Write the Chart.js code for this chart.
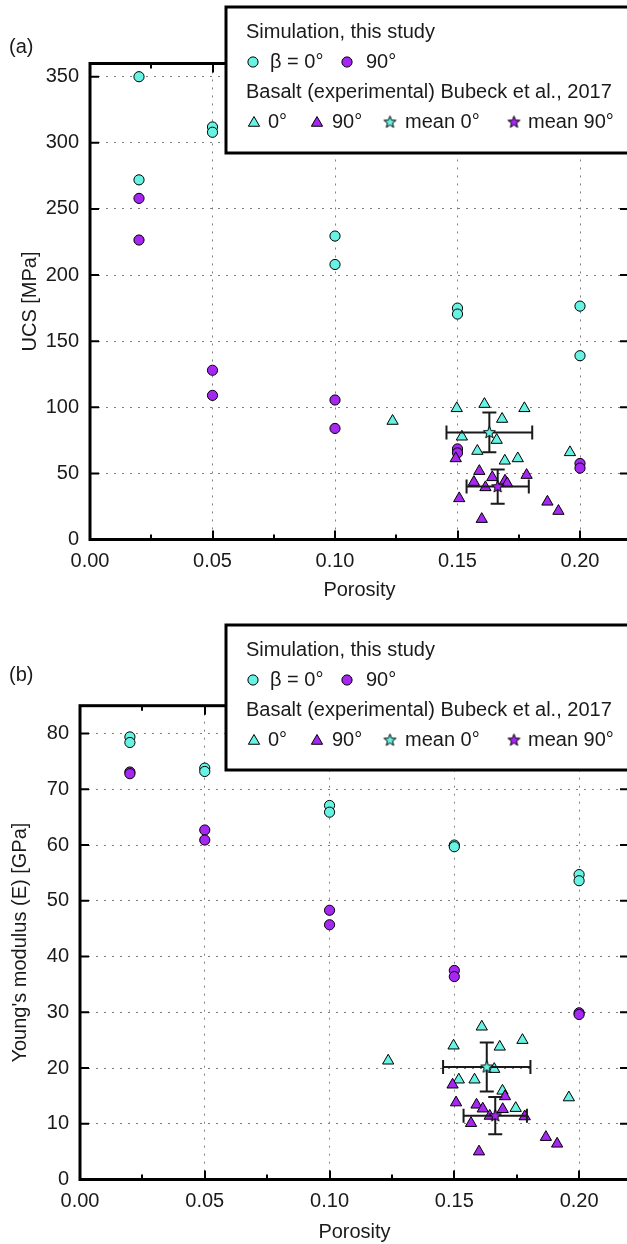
<!DOCTYPE html>
<html><head><meta charset="utf-8">
<script src="https://cdn.jsdelivr.net/npm/chart.js@4/dist/chart.umd.min.js"></script>
<style>
html,body{margin:0;padding:0;background:#fff;overflow:hidden;width:627px;height:1244px;position:relative}
.wrap{position:absolute;left:0;width:640px}
canvas{display:block}
</style></head><body>
<div class="wrap" style="top:0;height:620px"><canvas id="ca" width="640" height="620"></canvas></div>
<div class="wrap" style="top:620px;height:624px"><canvas id="cb" width="640" height="624"></canvas></div>
<script>
// ---------- data ----------
const simPorosity = [0.02, 0.02, 0.05, 0.05, 0.10, 0.10, 0.15, 0.15, 0.20, 0.20];
const ucsSim0  = [350, 272, 312, 308, 229.5, 208, 175, 170.5, 176.5, 139];
const ucsSim90 = [258, 226.5, 128, 109, 105.5, 84, 68.5, 65.5, 57.5, 54];
const eSim0    = [79.4, 78.4, 73.8, 73.2, 67.1, 65.9, 60.0, 59.7, 54.7, 53.6];
const eSim90   = [73.1, 72.8, 62.7, 60.9, 48.3, 45.7, 37.5, 36.4, 29.9, 29.6];

const expPor0  = [0.1497, 0.1610, 0.1773, 0.1682, 0.1518, 0.1660, 0.1581, 0.1693, 0.1746, 0.1959, 0.1235];
const ucsExp0  = [99.2, 102.4, 99.2, 91.1, 77.7, 75.2, 66.9, 59.5, 61.3, 65.9, 89.6];
const eExp0    = [24.0, 27.4, 25.0, 23.8, 17.9, 19.8, 17.9, 15.9, 12.8, 14.7, 21.3];

const expPor90 = [0.1493, 0.1589, 0.1567, 0.1614, 0.1642, 0.1694, 0.1703, 0.1782, 0.1507, 0.1599, 0.1867, 0.1912];
const ucsExp90 = [61.3, 51.7, 43.4, 39.4, 47.0, 44.4, 42.4, 48.7, 31.1, 15.4, 28.5, 21.5];
const eExp90   = [17.0, 13.4, 10.1, 12.7, 11.4, 12.6, 14.9, 11.3, 13.8, 5.0, 7.6, 6.4];

// means: [0 deg, 90 deg]
const meanPor    = [0.1630, 0.1664];
const meanPorErr = [0.0175, 0.0127];
const ucsMean    = [81, 40];
const ucsMeanErr = [15, 13];
const eMean      = [20.2, 11.45];
const eMeanErr   = [4.4, 3.35];

const xTickValues = [0, 0.05, 0.10, 0.15, 0.20];
const legendTexts = {
  head1: 'Simulation, this study',
  sim0: 'β = 0°', sim90: '90°',
  head2: 'Basalt (experimental) Bubeck et al., 2017',
  exp0: '0°', exp90: '90°', mean0: 'mean 0°', mean90: 'mean 90°'
};

// ---------- styles ----------
const CYAN = '#66f3e3';
const PURPLE = '#a626f2';
const FONT = "'Liberation Sans', Arial, sans-serif";
const TXT = '#1a1a1a';

function starCanvas(color) {
  const c = document.createElement('canvas'); c.width = 15; c.height = 15;
  const g = c.getContext('2d');
  g.beginPath();
  for (let i = 0; i < 10; i++) {
    const r = i % 2 === 0 ? 6.3 : 2.7;
    const a = -Math.PI / 2 + i * Math.PI / 5;
    const px = 7.5 + r * Math.cos(a), py = 7.8 + r * Math.sin(a);
    i ? g.lineTo(px, py) : g.moveTo(px, py);
  }
  g.closePath(); g.fillStyle = color; g.fill();
  g.lineWidth = 1; g.strokeStyle = '#000'; g.stroke();
  return c;
}
const star0 = starCanvas(CYAN), star90 = starCanvas(PURPLE);

const pts = (xs, ys) => xs.map((x, i) => ({x, y: ys[i]}));

function makeChart(id, cfg) {
  const ctx = document.getElementById(id);
  const circ = (c) => ({pointStyle: 'circle', pointRadius: 5.1, pointBackgroundColor: c, pointBorderColor: '#000', pointBorderWidth: 1});
  const tri = (c) => ({pointStyle: 'triangle', pointRadius: 6.5, pointBackgroundColor: c, pointBorderColor: '#000', pointBorderWidth: 1});
  const datasets = [
    {label: 'mean 90°', data: [{x: meanPor[1], y: cfg.mean[1]}], pointStyle: star90, pointRadius: 7},
    {label: 'mean 0°', data: [{x: meanPor[0], y: cfg.mean[0]}], pointStyle: star0, pointRadius: 7},
    Object.assign({label: 'exp 90°', data: pts(expPor90, cfg.exp90)}, tri(PURPLE)),
    Object.assign({label: 'exp 0°', data: pts(expPor0, cfg.exp0)}, tri(CYAN)),
    Object.assign({label: 'sim 90°', data: pts(simPorosity, cfg.sim90)}, circ(PURPLE)),
    Object.assign({label: 'sim 0°', data: pts(simPorosity, cfg.sim0)}, circ(CYAN)),
  ];

  const errPlugin = {
    id: 'errbars',
    beforeDatasetDraw(chart, args) {
      if (args.index !== 1) return;
      const xs = chart.scales.x, ys = chart.scales.y, c = chart.ctx;
      c.save();
      c.strokeStyle = '#1a1a1a'; c.lineWidth = 2;
      for (let i = 0; i < 2; i++) {
        const px = xs.getPixelForValue(meanPor[i]);
        const py = ys.getPixelForValue(cfg.mean[i]);
        const x1 = xs.getPixelForValue(meanPor[i] - meanPorErr[i]);
        const x2 = xs.getPixelForValue(meanPor[i] + meanPorErr[i]);
        const y1 = ys.getPixelForValue(cfg.mean[i] - cfg.meanErr[i]);
        const y2 = ys.getPixelForValue(cfg.mean[i] + cfg.meanErr[i]);
        const cap = 7;
        c.beginPath();
        c.moveTo(x1, py); c.lineTo(x2, py);
        c.moveTo(x1, py - cap); c.lineTo(x1, py + cap);
        c.moveTo(x2, py - cap); c.lineTo(x2, py + cap);
        c.moveTo(px, y1); c.lineTo(px, y2);
        c.moveTo(px - cap, y1); c.lineTo(px + cap, y1);
        c.moveTo(px - cap, y2); c.lineTo(px + cap, y2);
        c.stroke();
      }
      c.restore();
    }
  };

  const framePlugin = {
    id: 'frame',
    afterDraw(chart) {
      const c = chart.ctx, a = chart.chartArea, xs = chart.scales.x, ys = chart.scales.y;
      c.save();
      c.strokeStyle = '#000'; c.lineWidth = 2;
      c.beginPath();
      for (let v = 0.025; v < 0.22; v += 0.025) {
        const px = Math.round(xs.getPixelForValue(v));
        const major = Math.abs(v / 0.05 - Math.round(v / 0.05)) < 1e-6;
        const L = major ? 9 : 5;
        c.moveTo(px, a.bottom); c.lineTo(px, a.bottom - L);
        c.moveTo(px, a.top); c.lineTo(px, a.top + L);
      }
      ys.ticks.forEach(t => {
        const py = ys.getPixelForValue(t.value);
        c.moveTo(a.left, py); c.lineTo(a.left + 9, py);
        c.moveTo(a.right, py); c.lineTo(a.right - 9, py);
      });
      c.stroke();
      c.lineWidth = 3;
      c.strokeRect(a.left, a.top, a.right - a.left, a.bottom - a.top);
      // legend box
      const L = cfg.legend;
      c.fillStyle = '#fff';
      c.fillRect(L.left, L.top, 700 - L.left, L.h);
      c.strokeRect(L.left, L.top, 700 - L.left, L.h);
      c.fillStyle = TXT; c.font = '20px ' + FONT; c.textBaseline = 'middle'; c.textAlign = 'left';
      const r = (i) => L.top + 25 + 30 * i;
      c.fillText(legendTexts.head1, 246, r(0));
      c.fillText(legendTexts.sim0, 270, r(1));
      c.fillText(legendTexts.sim90, 366, r(1));
      c.fillText(legendTexts.head2, 246, r(2));
      c.fillText(legendTexts.exp0, 268, r(3));
      c.fillText(legendTexts.exp90, 332, r(3));
      c.fillText(legendTexts.mean0, 405, r(3));
      c.fillText(legendTexts.mean90, 528, r(3));
      const mk = (style, rad, col, x, y) => {
        c.fillStyle = col; c.strokeStyle = '#000'; c.lineWidth = 1;
        Chart.helpers.drawPoint(c, {pointStyle: style, radius: rad, borderWidth: 1, rotation: 0}, x, y);
      };
      mk('circle', 5.1, CYAN, 253, r(1));
      mk('circle', 5.1, PURPLE, 347, r(1));
      mk('triangle', 6.5, CYAN, 254, r(3) + 1);
      mk('triangle', 6.5, PURPLE, 317, r(3) + 1);
      c.drawImage(star0, 390 - 7.5, r(3) - 7.5);
      c.drawImage(star90, 514 - 7.5, r(3) - 7.5);
      c.fillStyle = TXT; c.font = '20px ' + FONT; c.textAlign = 'left';
      c.fillText(cfg.panel, 9, cfg.panelY);
      c.restore();
    }
  };

  return new Chart(ctx, {
    type: 'scatter',
    data: {datasets},
    options: {
      responsive: false, animation: false, devicePixelRatio: 1,
      layout: {padding: {top: cfg.top, right: 11, left: 0, bottom: 0}},
      plugins: {legend: {display: false}, tooltip: {enabled: false}},
      scales: {
        x: {
          type: 'linear', min: 0, max: 0.22,
          afterFit: s => { s.height = cfg.xH; },
          afterBuildTicks: s => { s.ticks = xTickValues.map(v => ({value: v})); },
          ticks: {font: {size: 20, family: FONT}, color: TXT, padding: 10, maxRotation: 0, autoSkip: false,
                  callback: v => Number(v).toFixed(2)},
          grid: {color: '#808080', lineWidth: 1, drawTicks: false},
          border: {display: false, dash: [2, 6]},
          title: {display: true, text: 'Porosity', font: {size: 20, family: FONT}, color: TXT, padding: {top: 0, bottom: cfg.xTitlePad}}
        },
        y: {
          type: 'linear', min: 0, max: cfg.ymax,
          afterFit: s => { s.width = cfg.yW; },
          ticks: {stepSize: cfg.step, includeBounds: false, font: {size: 20, family: FONT}, color: TXT, padding: 11},
          grid: {color: '#808080', lineWidth: 1, drawTicks: false},
          border: {display: false, dash: [2, 6]},
          title: {display: true, text: cfg.ytitle, font: {size: 20, family: FONT}, color: TXT, padding: {top: cfg.yTitlePad, bottom: 0}}
        }
      }
    },
    plugins: [errPlugin, framePlugin]
  });
}

makeChart('ca', {
  sim0: ucsSim0, sim90: ucsSim90, exp0: ucsExp0, exp90: ucsExp90,
  mean: ucsMean, meanErr: ucsMeanErr,
  ymax: 360, step: 50, top: 63.5, xH: 80.5, yW: 90, xTitlePad: 18, yTitlePad: 18,
  ytitle: 'UCS [MPa]', panel: '(a)', panelY: 47,
  legend: {left: 226, top: 7, h: 146}
});
makeChart('cb', {
  sim0: eSim0, sim90: eSim90, exp0: eExp0, exp90: eExp90,
  mean: eMean, meanErr: eMeanErr,
  ymax: 85, step: 10, top: 85.7, xH: 64.5, yW: 80, xTitlePad: 0, yTitlePad: 8,
  ytitle: "Young's modulus (E) [GPa]", panel: '(b)', panelY: 55,
  legend: {left: 226, top: 5, h: 145}
});
</script>
</body></html>
